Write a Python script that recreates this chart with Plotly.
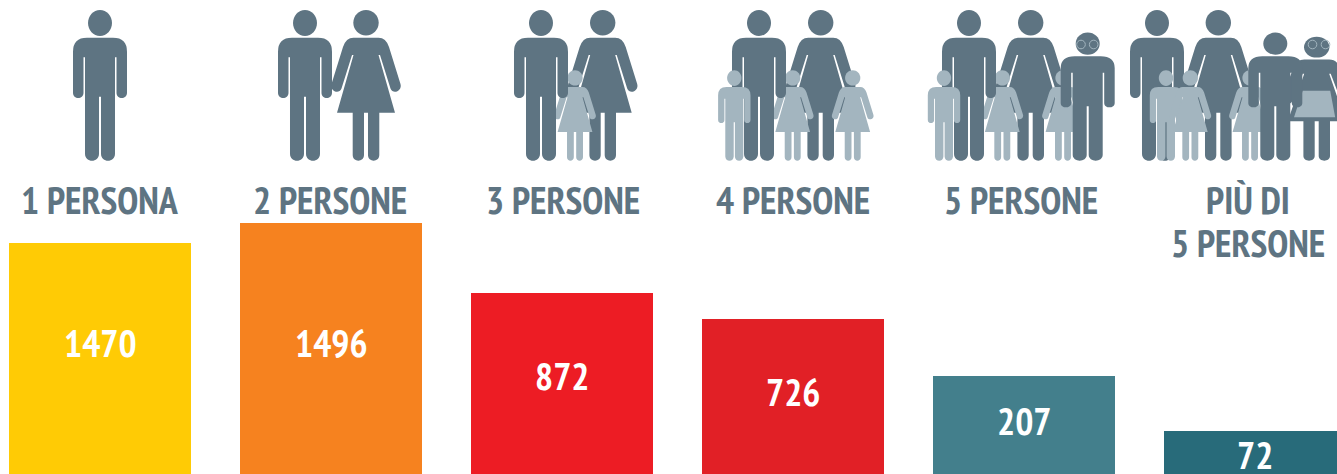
import plotly.graph_objects as go

categories = ["1 PERSONA", "2 PERSONE", "3 PERSONE", "4 PERSONE", "5 PERSONE", "PIÙ DI<br>5 PERSONE"]
values = [1470, 1496, 872, 726, 207, 72]
bar_heights = [231, 251, 181, 155, 98, 43]
bar_colors = ["#FFCB05", "#F6821F", "#ED1C24", "#E12026", "#437F8C", "#286B7A"]

W, H = 1337, 474
DARK, LIGHT = "#5E7482", "#A3B5BF"
# PT Sans Narrow is not on the brief's font list but is present in the sandbox; the rest of the stack is the fallback.
FONT = "PT Sans Narrow, Liberation Sans, Roboto, sans-serif"
PITCH, FIRST_C, BAR_W = 231, 100, 182

label_cx = [100, 330, 563, 793, 1021, 1248]
value_cy = [342, 342, 375, 391, 420, 454]
LABEL_CY, LABEL_LINE = 200, 43

GROUND = 160.7


def pt(ox, x, y, sx, sy):
    px = ox + x * sx
    py = GROUND - (GROUND - y) * sy
    return f"{px / W:.5f},{1 - py / H:.5f}"


def path(ox, sx, sy, cmds):
    out = []
    for c in cmds:
        op, pts = c[0], c[1:]
        out.append(op + " " + " ".join(pt(ox, p[0], p[1], sx, sy) for p in pts))
    return " ".join(out) + " Z"


def cap(x1, x2, y):
    r = abs(x2 - x1) / 2 * 4 / 3
    return ("C", (x1, y + r), (x2, y + r), (x2, y))


def head(cx, cy, rx, ry):
    k = 0.5523
    return [("M", (cx - rx, cy)),
            ("C", (cx - rx, cy - k * ry), (cx - k * rx, cy - ry), (cx, cy - ry)),
            ("C", (cx + k * rx, cy - ry), (cx + rx, cy - k * ry), (cx + rx, cy)),
            ("C", (cx + rx, cy + k * ry), (cx + k * rx, cy + ry), (cx, cy + ry)),
            ("C", (cx - k * rx, cy + ry), (cx - rx, cy + k * ry), (cx - rx, cy))]


MAN_BODY = [("M", (-13, 37.7)), ("L", (13, 37.7)), ("Q", (27, 37.7), (27, 51.7)), ("L", (27, 92.7)),
            cap(27, 16.5, 92.7), ("L", (16.5, 57.3)), ("L", (15, 57.3)), ("L", (15, 153.7)),
            cap(15, 1, 153.7), ("L", (1, 96.7)), ("L", (-1, 96.7)), ("L", (-1, 153.7)),
            cap(-1, -15, 153.7), ("L", (-15, 57.3)), ("L", (-16.5, 57.3)), ("L", (-16.5, 92.7)),
            cap(-16.5, -27, 92.7), ("L", (-27, 51.7)), ("Q", (-27, 37.7), (-13, 37.7))]
WOMAN_BODY = [("M", (-12.5, 37.7)), ("L", (12.5, 37.7)), ("Q", (20, 37.7), (23, 47)), ("L", (34.5, 84)),
              ("C", (36.5, 91), (27, 95), (24.5, 88.5)), ("L", (14, 55)), ("L", (12.5, 55)),
              ("L", (29, 112.7)), ("L", (13.3, 112.7)), ("L", (13.3, 155)), cap(13.3, 2, 155),
              ("L", (2, 112.7)), ("L", (-2, 112.7)), ("L", (-2, 155)), cap(-2, -13.3, 155),
              ("L", (-13.3, 112.7)), ("L", (-29, 112.7)), ("L", (-12.5, 55)), ("L", (-14, 55)),
              ("L", (-24.5, 88.5)), ("C", (-27, 95), (-36.5, 91), (-34.5, 84)), ("L", (-23, 47)),
              ("Q", (-20, 37.7), (-12.5, 37.7))]

shapes = []


def add(cmds, ox, sx, sy, color):
    shapes.append(dict(type="path", xref="paper", yref="paper", path=path(ox, sx, sy, cmds),
                       fillcolor=color, line=dict(width=0), layer="above"))


def man(ox, sx=1.0, sy=1.0, color=DARK):
    add(head(0, 23, 12, 13), ox, sx, sy, color)
    add(MAN_BODY, ox, sx, sy, color)


def woman(ox, sx=1.0, sy=1.0, color=DARK):
    add(head(0, 22.7, 12.7, 12.7), ox, sx, sy, color)
    add(WOMAN_BODY, ox, sx, sy, color)


def boy(ox):
    man(ox, 0.6, 0.6, LIGHT)


def girl(ox):
    woman(ox, 0.6, 0.6, LIGHT)


def ring(cx, cy, r):
    shapes.append(dict(type="circle", xref="paper", yref="paper",
                       x0=(cx - r) / W, x1=(cx + r) / W, y0=1 - (cy + r) / H, y1=1 - (cy - r) / H,
                       fillcolor="rgba(0,0,0,0)", line=dict(color=LIGHT, width=1), layer="above"))


TEEN_Y, GRAN_Y = 0.85, 0.823

man(100)
man(305); woman(366)
woman(602.7); girl(575); man(541)
woman(820.7); girl(792.7); man(759); boy(734.3); girl(852.7)
woman(1030.7); girl(1002.3); man(969); boy(944); girl(1063); man(1087.7, 1, TEEN_Y)
ring(1081, 44.5, 4.3); ring(1093.7, 44.5, 4.3)
woman(1218.3); man(1157); boy(1166); girl(1190.3); girl(1250)
woman(1316.7, 1, GRAN_Y)
add([("M", (-14, 90.7)), ("L", (13.5, 90.7)), ("L", (18.5, 117.3)), ("L", (-22.7, 117.3))],
    1316.7, 1, 1, LIGHT)
ring(1312.5, 44.5, 4.3); ring(1325.5, 44.5, 4.3)
man(1275.3, 1, TEEN_Y)

fig = go.Figure(go.Bar(x=categories, y=bar_heights, width=BAR_W / PITCH,
                       marker=dict(color=bar_colors, line=dict(width=0)),
                       hoverinfo="skip"))

annotations = []
for cat, v, cy in zip(categories, values, value_cy):
    annotations.append(dict(x=cat, y=H - cy, xref="x", yref="y", text=str(v), showarrow=False,
                            font=dict(family=FONT, size=38, color="white", weight="bold"),
                            xanchor="center", yanchor="middle"))
for cat, cx in zip(categories, label_cx):
    for k, line in enumerate(cat.split("<br>")):
        annotations.append(dict(x=cx / W, y=1 - (LABEL_CY + k * LABEL_LINE) / H, xref="paper", yref="paper",
                                text=line, showarrow=False,
                                font=dict(family=FONT, size=38, color=DARK, weight="bold"),
                                xanchor="center", yanchor="middle", align="center"))

fig.update_layout(
    width=W, height=H, margin=dict(l=0, r=0, t=0, b=0),
    paper_bgcolor="white", plot_bgcolor="white", showlegend=False,
    xaxis=dict(type="category", categoryorder="array", categoryarray=categories, visible=False,
               range=[-FIRST_C / PITCH, (W - FIRST_C) / PITCH]),
    yaxis=dict(range=[0, H], visible=False),
    shapes=shapes, annotations=annotations,
)

fig.write_html("out.html", config=dict(displayModeBar=False),
               post_script="document.body.style.margin='0';document.documentElement.style.overflow='hidden';")
